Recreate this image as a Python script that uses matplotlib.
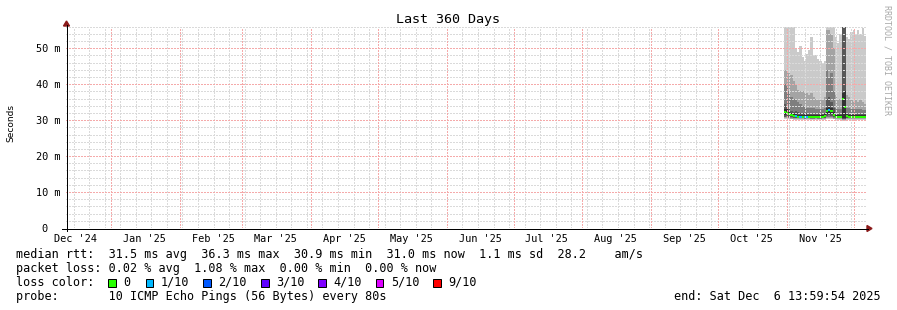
import datetime as dt
import numpy as np
import matplotlib
matplotlib.use('Agg')
import matplotlib.pyplot as plt
import matplotlib.dates as mdates
from matplotlib.patches import Polygon, Rectangle
from matplotlib.lines import Line2D

W, H = 897, 310
MONO = 'DejaVu Sans Mono'

t_end = dt.datetime(2025, 12, 6, 13, 59, 54)
t_start = t_end - dt.timedelta(days=360)
data_start = dt.datetime(2025, 10, 30, 14, 0)   # one bin per day from here

# smokeping data (ms), 10 sorted pings per bin + median + loss (tenths)
median = [32.3, 32.0, 31.8, 31.5, 31.2, 31.2, 31.0, 31.0, 31.0, 30.9, 31.0, 31.0, 30.9,
          30.9, 31.0, 30.9, 30.9, 31.0, 31.2, 32.5, 32.8, 32.5, 31.5, 31.0, 31.0, 31.0,
          36.0, 33.8, 31.2, 31.0, 31.0, 31.0, 31.0, 31.0, 31.0, 31.0, 31.0]
loss = [0, 0, 0, 0, 0, 1, 0, 1, 0, 1, 1, 0, 0, 0, 0, 0, 0, 0, 0, 0, 1, 0, 0, 0, 0, 0,
        0, 0, 0, 0, 0, 0, 0, 0, 0, 0, 0]
ping10 = [56, 56, 56, 56, 56, 50, 49, 50.5, 47.5, 46.5, 48.5, 49.5, 53, 48, 48, 47, 46.5,
          46, 46.5, 56, 56, 56, 56, 53, 51.5, 54, 56, 56, 53, 52.5, 54.5, 55, 54, 55, 54,
          55.5, 53.5]
ping9 = [44, 44, 43, 42.5, 41, 40, 38.5, 38, 38, 37.5, 37.5, 37, 37.5, 36.5, 36, 35.5,
         35.5, 36, 36.5, 55, 55, 54, 50, 37, 36, 36, 56, 56, 37, 36.5, 35.5, 35, 35.5, 35,
         35.5, 35, 34.5]
ping8 = [40, 39.5, 38, 36.5, 36, 35.5, 35, 34.5, 34, 34, 33.5, 33.5, 33.5, 33.5, 33, 33,
         33, 33, 33.5, 44, 42, 43, 38, 33.5, 33, 33, 56, 56, 33.5, 33.5, 33, 33, 33, 33,
         33, 32.8, 32.8]
ping7 = [34.5, 34, 33, 32.5, 32.3, 32.5, 32.3, 32, 32, 32, 32, 31.8, 31.8, 31.8, 31.8,
         31.8, 31.8, 31.8, 32, 36, 36.5, 35, 33.5, 32, 31.8, 31.8, 56, 56, 32, 31.8, 31.7,
         31.7, 31.7, 31.7, 31.7, 31.7, 31.7]
ping6 = [33, 33, 32.4, 32, 31.6, 31.6, 31.4, 31.4, 31.4, 31.3, 31.4, 31.4, 31.3, 31.3,
         31.4, 31.3, 31.3, 31.4, 31.6, 33.5, 34, 33.5, 32.2, 31.4, 31.4, 31.4, 37.5, 38,
         31.6, 31.4, 31.4, 31.4, 31.4, 31.4, 31.4, 31.4, 31.4]
ping5 = [31.5, 31.6, 31.3, 31.1, 30.9, 30.9, 30.8, 30.8, 30.8, 30.7, 30.8, 30.8, 30.7,
         30.7, 30.8, 30.7, 30.7, 30.8, 30.9, 31.8, 32, 31.8, 31.1, 30.8, 30.8, 30.8, 30.6,
         30.6, 30.9, 30.8, 30.8, 30.8, 30.8, 30.8, 30.8, 30.8, 30.8]
ping4 = [31.0, 31.1, 30.9, 30.8, 30.7, 30.7, 30.6, 30.6, 30.6, 30.5, 30.6, 30.6, 30.5,
         30.5, 30.6, 30.5, 30.5, 30.6, 30.7, 31.2, 31.4, 31.2, 30.8, 30.6, 30.6, 30.6, 30.3,
         30.3, 30.7, 30.6, 30.6, 30.6, 30.6, 30.6, 30.6, 30.6, 30.6]
ping3 = [30.8, 30.9, 30.7, 30.6, 30.5, 30.5, 30.5, 30.5, 30.5, 30.4, 30.5, 30.5, 30.4,
         30.4, 30.5, 30.4, 30.4, 30.5, 30.5, 30.9, 31.0, 30.9, 30.6, 30.5, 30.5, 30.5, 30.2,
         30.2, 30.5, 30.5, 30.5, 30.5, 30.5, 30.5, 30.5, 30.5, 30.5]
ping2 = [30.6, 30.6, 30.5, 30.4, 30.4, 30.3, 30.3, 30.3, 30.3, 30.3, 30.3, 30.3, 30.3,
         30.3, 30.3, 30.3, 30.3, 30.3, 30.4, 30.6, 30.7, 30.6, 30.4, 30.3, 30.3, 30.3, 30.1,
         30.1, 30.4, 30.3, 30.3, 30.3, 30.3, 30.3, 30.3, 30.3, 30.3]
ping1 = [30.3, 30.3, 30.2, 30.2, 30.1, 30.1, 30.1, 30.1, 30.1, 30.0, 30.1, 30.1, 30.0,
         30.0, 30.1, 30.0, 30.0, 30.1, 30.1, 30.3, 30.4, 30.3, 30.2, 30.1, 30.1, 30.1, 29.9,
         29.9, 30.1, 30.1, 30.1, 30.1, 30.1, 30.1, 30.1, 30.1, 30.1]

loss_levels = [0, 1, 2, 3, 4, 5, 9]
loss_labels = ['0', '1/10', '2/10', '3/10', '4/10', '5/10', '9/10']
loss_colors = ['#26ff00', '#00b8ff', '#0059ff', '#5e00ff', '#7e00ff', '#dd00ff', '#ff0000']

y_ticks = [0, 10, 20, 30, 40, 50]
y_max = 56

legend_rows = [
    "median rtt:  31.5 ms avg  36.3 ms max  30.9 ms min  31.0 ms now  1.1 ms sd  28.2    am/s",
    "packet loss: 0.02 % avg  1.08 % max  0.00 % min  0.00 % now",
    "loss color:",
    "probe:       10 ICMP Echo Pings (56 Bytes) every 80s",
]
end_text = "end: Sat Dec  6 13:59:54 2025"


def fx(x):
    return x / W


def fy(y):
    return 1 - y / H


L, R, T, B = 66, 866, 26.7, 228
fig = plt.figure(figsize=(W / 100, H / 100), dpi=100)
fig.patch.set_facecolor('white')
ax = fig.add_axes([fx(L), fy(B), (R - L) / W, (B - T) / H])
x0, x1 = mdates.date2num(t_start), mdates.date2num(t_end)
ax.set_xlim(x0, x1)
ax.set_ylim(0, y_max)
for s in ax.spines.values():
    s.set_visible(False)
ax.set_xticks([])
ax.set_yticks([])


def xpix(d):
    return L + (mdates.date2num(d) - x0) * (R - L) / (x1 - x0)


# smoke: stacked areas between ping i and ping 11-i, step per day
n = len(median)
edges = mdates.date2num(data_start) + np.arange(n + 1)
bands = [(ping1, ping10, '#cacaca'), (ping2, ping9, '#a4a4a4'), (ping3, ping8, '#7e7e7e'),
         (ping4, ping7, '#585858'), (ping5, ping6, '#323232')]
for lo, hi, c in bands:
    lo = np.append(lo, lo[-1])
    hi = np.append(hi, hi[-1])
    ax.fill_between(edges, lo, hi, step='post', color=c, linewidth=0, zorder=2)

# median band coloured by loss (2 px thick)
half = 1.0 * y_max / (B - T)
med = np.array(median)
cols = [loss_colors[loss_levels.index(l)] for l in loss]
ax.bar(edges[:-1], 2 * half, bottom=med - half, width=1, align='edge', color=cols,
       linewidth=0, zorder=4)

# grid (drawn over the data like rrdtool)
dots = (0, (1, 1))
grid_kw = dict(lw=1.0, ls=dots, antialiased=False)
minor_c, major_c = '#dadada', '#f5aaaa'
for v in range(2, y_max + 1, 2):
    major = v % 10 == 0
    ax.axhline(v, color=major_c if major else minor_c, zorder=6 if major else 5, **grid_kw)
d = dt.datetime(2024, 12, 15)
while d < t_end:
    ax.axvline(mdates.date2num(d), color=minor_c, zorder=5, **grid_kw)
    d += dt.timedelta(days=7)
months = [dt.datetime(2024 + (11 + k) // 12, (11 + k) % 12 + 1, 1) for k in range(13)]
for m in months:
    if t_start < m < t_end:
        ax.axvline(mdates.date2num(m), color=major_c, zorder=6, **grid_kw)

# axes and arrows
fig.add_artist(Line2D([fx(66.5), fx(66.5)], [fy(231), fy(25)], color='black', lw=0.72))
fig.add_artist(Line2D([fx(62), fx(868)], [fy(228.5), fy(228.5)], color='black', lw=0.72))
fig.add_artist(Polygon([(fx(63.5), fy(26)), (fx(69.5), fy(26)), (fx(66.5), fy(21))],
                       closed=True, color='#8b1a1a', transform=fig.transFigure))
fig.add_artist(Polygon([(fx(867), fy(225.5)), (fx(867), fy(231.5)), (fx(872), fy(228.5))],
                       closed=True, color='#8b1a1a', transform=fig.transFigure))

# y tick labels
ppm = (B - T) / y_max
for v in y_ticks:
    ypx = B - v * ppm
    if v == 0:
        fig.text(fx(47.5), fy(ypx + 3.5), '0', ha='right', va='baseline', fontsize=7.4, family=MONO)
    else:
        fig.text(fx(60.5), fy(ypx + 3.5), f'{v} m', ha='right', va='baseline', fontsize=7.4,
                 family=MONO)

# x tick labels at mid month
for m in months:
    mid = m + dt.timedelta(days=15)
    if t_start < mid < t_end:
        fig.text(fx(xpix(mid)), fy(241.5), m.strftime("%b '%y"), ha='center', va='baseline',
                 fontsize=7.4, family=MONO)

fig.text(fx(447.5), fy(23.5), 'Last 360 Days', ha='center', va='baseline', fontsize=9.6,
         family=MONO)
fig.text(fx(11), fy(123.3), 'Seconds', rotation=90, ha='center', va='center', fontsize=6.5,
         family='DejaVu Sans')
fig.text(fx(887), fy(60), 'RRDTOOL / TOBI OETIKER', rotation=270, ha='center', va='center',
         fontsize=6, color='#a8a8a8', family=MONO)

# legend
for i, row in enumerate(legend_rows):
    fig.text(fx(16), fy(257.7 + 14 * i), row, ha='left', va='baseline', fontsize=8.5, family=MONO)
box_x = [108.3, 145.7, 203.3, 261, 318.3, 375.7, 433.3]
for bx, c, lab in zip(box_x, loss_colors, loss_labels):
    fig.add_artist(Rectangle((fx(bx), fy(286.8)), 7.5 / W, 7.5 / H, facecolor=c,
                             edgecolor='black', lw=0.72, transform=fig.transFigure))
    fig.text(fx(bx + 15), fy(285.7), lab, ha='left', va='baseline', fontsize=8.5, family=MONO)
fig.text(fx(881), fy(299.7), end_text, ha='right', va='baseline', fontsize=8.5, family=MONO)

fig.savefig('out.png', dpi=100)
